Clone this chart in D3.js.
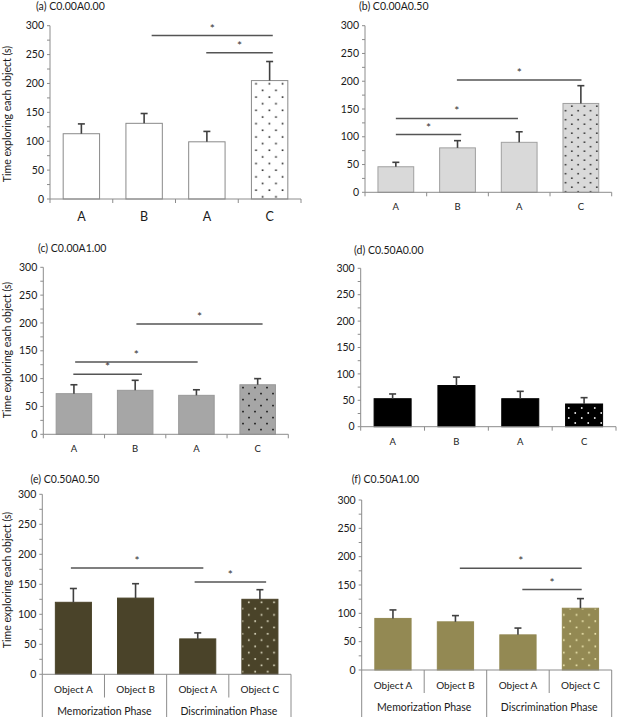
<!DOCTYPE html>
<html><head><meta charset="utf-8">
<script src="https://cdn.jsdelivr.net/npm/d3@7"></script>
<style>body{margin:0;background:#fff}svg{display:block}</style>
</head><body>
<svg id="c" width="621" height="717"></svg>
<script>
// ---- data ----
const categoriesShort = ["A", "B", "A", "C"];
const categoriesLong = ["Object A", "Object B", "Object A", "Object C"];
const phases = ["Memorization Phase", "Discrimination Phase"];
const yTicks = [0, 50, 100, 150, 200, 250, 300];
const yLabel = "Time exploring each object (s)";
const titles = ["(a) C0.00A0.00", "(b) C0.00A0.50", "(c) C0.00A1.00", "(d) C0.50A0.00", "(e) C0.50A0.50", "(f) C0.50A1.00"];

const meansA = [113, 131, 99, 205];
const errA = [17, 17, 18, 33];
const meansB = [46, 80, 90, 160];
const errB = [8, 13, 19, 32];
const meansC = [73, 79, 70, 89];
const errC = [16, 18, 10, 11];
const meansD = [53, 78, 53, 43];
const errD = [9, 16, 14, 12];
const meansE = [120, 127, 59, 125];
const errE = [23, 24, 10, 16];
const meansF = [91, 85, 62, 109];
const errF = [15, 11, 12, 17];

// significance brackets: [from category (fractional index), to category, y value]
const sigA = [[1.12, 3.05, 283], [1.99, 3.05, 253]];
const sigB = [[0.99, 3.01, 202], [0.0, 1.98, 133], [0.0, 1.06, 104]];
const sigC = [[1.02, 3.08, 198], [0.02, 2.02, 130], [-0.01, 1.11, 108]];
const sigD = [];
const sigE = [[-0.04, 2.09, 177], [1.95, 3.1, 154]];
const sigF = [[1.07, 3.02, 179.5], [2.07, 3.02, 142]];

// ---- layout / style ----
const panels = [
  {title: titles[0], means: meansA, errs: errA, sig: sigA, cats: categoriesShort, x0: 50, x1: 301, yT: 25.7, yB: 199, labY: 217, catFont: 12.5, tx: 36, ty: 10, ylab: true, ylabY: 114,
   fill: "#ffffff", stroke: "#8a8a8a", dot: "#222", pw: 13.3, ph: 13.3},
  {title: titles[1], means: meansB, errs: errB, sig: sigB, cats: categoriesShort, x0: 365, x1: 611.7, yT: 25.7, yB: 192.3, labY: 207, catFont: 9.5, tx: 359, ty: 10, ylab: false,
   fill: "#d9d9d9", stroke: "#a0a0a0", dot: "#333", pw: 12.5, ph: 9},
  {title: titles[2], means: meansC, errs: errC, sig: sigC, cats: categoriesShort, x0: 43.3, x1: 288.3, yT: 267.3, yB: 434.3, labY: 448.5, catFont: 9.5, tx: 38, ty: 252, ylab: true, ylabY: 350,
   fill: "#a6a6a6", stroke: "#999", dot: "#111", pw: 12, ph: 12},
  {title: titles[3], means: meansD, errs: errD, sig: sigD, cats: categoriesShort, x0: 360.7, x1: 616, yT: 268.3, yB: 426.7, labY: 442, catFont: 9.5, tx: 354, ty: 254, ylab: false,
   fill: "#000000", stroke: "#000", dot: "#fff", pw: 13, ph: 10},
  {title: titles[4], means: meansE, errs: errE, sig: sigE, cats: categoriesLong, x0: 42.3, x1: 291, yT: 494.3, yB: 674.3, labY: 689.5, catFont: 10, tx: 30.5, ty: 483, ylab: true, ylabY: 580, phaseY: 711,
   fill: "#4a4329", stroke: "#4a4329", dot: "#ece8d0", pw: 12.6, ph: 12.6},
  {title: titles[5], means: meansF, errs: errF, sig: sigF, cats: categoriesLong, x0: 361.7, x1: 611.7, yT: 500, yB: 670, labY: 685, catFont: 10, tx: 351.7, ty: 483, ylab: false, phaseY: 707,
   fill: "#938953", stroke: "#938953", dot: "#f6efb8", pw: 12.6, ph: 12.6}
];

const FONT = "Lato, 'Open Sans', sans-serif";
const AX = "#8c8c8c";
const TXT = "#1a1a1a";
const svg = d3.select("#c");
const defs = svg.append("defs");

panels.forEach((p, pi) => {
  const g = svg.append("g");
  const pid = "dots" + pi;
  const pat = defs.append("pattern").attr("id", pid).attr("patternUnits", "userSpaceOnUse")
    .attr("width", p.pw).attr("height", p.ph);
  pat.append("rect").attr("width", p.pw).attr("height", p.ph).attr("fill", p.fill);
  [[0.25, 0.3], [0.75, 0.8]].forEach(([fx, fy]) => {
    pat.append("rect").attr("x", p.pw * fx - 0.8).attr("y", p.ph * fy - 0.8)
      .attr("width", 1.6).attr("height", 1.6).attr("fill", p.dot);
  });

  const x = d3.scaleBand().domain(d3.range(4)).range([p.x0, p.x1]).paddingInner(0.42).paddingOuter(0.21);
  const step = x.step();
  const xu = u => p.x0 + step * (u + 0.5);
  const y = d3.scaleLinear().domain([0, 300]).range([p.yB, p.yT]);

  // y axis
  g.append("line").attr("x1", p.x0).attr("x2", p.x0).attr("y1", p.yT).attr("y2", p.yB).attr("stroke", AX);
  g.selectAll(".mt").data(d3.range(0, 301, 25)).join("line")
    .attr("x1", p.x0 - 3).attr("x2", p.x0).attr("y1", d => y(d)).attr("y2", d => y(d)).attr("stroke", AX);
  g.selectAll(".yl").data(yTicks).join("text")
    .attr("x", p.x0 - 6).attr("y", d => y(d)).attr("dy", "0.35em").attr("text-anchor", "end")
    .attr("font-family", FONT).attr("font-size", 10.5).attr("fill", TXT).text(d => d);

  // bars
  g.selectAll(".bar").data(p.means).join("rect")
    .attr("x", (d, i) => x(i)).attr("width", x.bandwidth())
    .attr("y", d => y(d)).attr("height", d => y(0) - y(d))
    .attr("fill", (d, i) => i === 3 ? `url(#${pid})` : p.fill)
    .attr("stroke", p.stroke).attr("stroke-width", 1);

  // error bars
  const eb = g.selectAll(".eb").data(p.means.map((m, i) => ({m, e: p.errs[i], i}))).join("g");
  eb.append("line").attr("x1", d => x(d.i) + x.bandwidth() / 2).attr("x2", d => x(d.i) + x.bandwidth() / 2)
    .attr("y1", d => y(d.m)).attr("y2", d => y(d.m + d.e)).attr("stroke", "#404040").attr("stroke-width", 1.6);
  eb.append("line").attr("x1", d => x(d.i) + x.bandwidth() / 2 - 3.5).attr("x2", d => x(d.i) + x.bandwidth() / 2 + 3.5)
    .attr("y1", d => y(d.m + d.e)).attr("y2", d => y(d.m + d.e)).attr("stroke", "#404040").attr("stroke-width", 1.6);

  // x axis
  g.append("line").attr("x1", p.x0).attr("x2", p.x1).attr("y1", p.yB).attr("y2", p.yB).attr("stroke", AX);
  if (!p.phaseY) {
    g.selectAll(".xt").data(d3.range(5)).join("line")
      .attr("x1", d => p.x0 + d * step).attr("x2", d => p.x0 + d * step)
      .attr("y1", p.yB).attr("y2", p.yB + 4).attr("stroke", AX);
  } else {
    const bottom = 717;
    [0, 2, 4].forEach(k => {
      g.append("line").attr("x1", p.x0 + k * step).attr("x2", p.x0 + k * step)
        .attr("y1", p.yB).attr("y2", bottom).attr("stroke", AX);
    });
    [1, 3].forEach(k => {
      g.append("line").attr("x1", p.x0 + k * step).attr("x2", p.x0 + k * step)
        .attr("y1", p.yB).attr("y2", p.labY + 8).attr("stroke", AX);
    });
    g.selectAll(".ph").data(phases).join("text")
      .attr("x", (d, i) => p.x0 + step * (2 * i + 1)).attr("y", p.phaseY).attr("dy", "0.35em")
      .attr("text-anchor", "middle").attr("font-family", FONT).attr("font-size", 10.5).attr("fill", TXT).text(d => d);
  }
  g.selectAll(".xl").data(p.cats).join("text")
    .attr("x", (d, i) => x(i) + x.bandwidth() / 2).attr("y", p.labY).attr("dy", "0.35em")
    .attr("text-anchor", "middle").attr("font-family", FONT).attr("font-size", p.catFont).attr("fill", TXT).text(d => d);

  // significance lines
  const sg = g.selectAll(".sig").data(p.sig).join("g");
  sg.append("line").attr("x1", d => xu(d[0])).attr("x2", d => xu(d[1]))
    .attr("y1", d => y(d[2])).attr("y2", d => y(d[2])).attr("stroke", "#555").attr("stroke-width", 1.5);
  sg.append("text").attr("x", d => (xu(d[0]) + xu(d[1])) / 2).attr("y", d => y(d[2]) - 3)
    .attr("text-anchor", "middle").attr("font-family", FONT).attr("font-size", 12).attr("fill", "#333").text("*");

  // title
  g.append("text").attr("x", p.tx).attr("y", p.ty).attr("font-family", FONT).attr("font-size", 10.5)
    .attr("fill", TXT).text(p.title);

  // y label
  if (p.ylab) {
    g.append("text").attr("transform", `translate(${7},${p.ylabY}) rotate(-90)`).attr("dy", "0.35em")
      .attr("text-anchor", "middle").attr("font-family", FONT).attr("font-size", 10.5).attr("fill", TXT).text(yLabel);
  }
});
</script>
</body></html>
